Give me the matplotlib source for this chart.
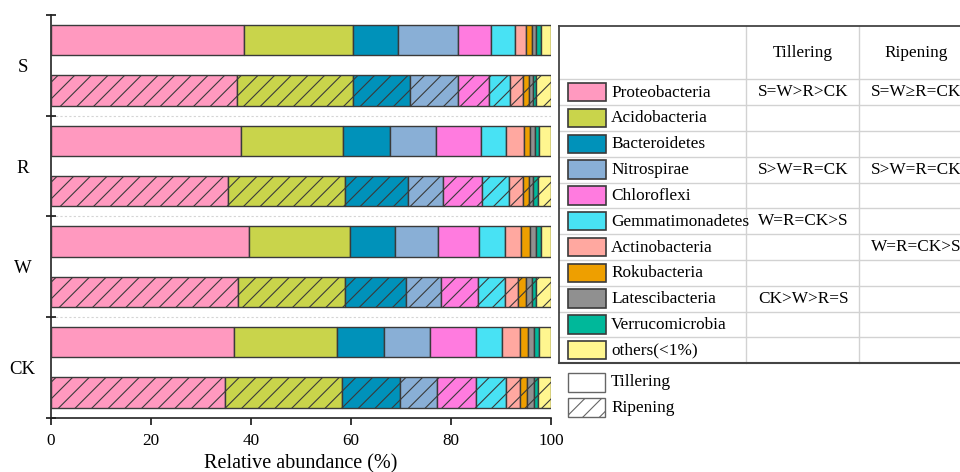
import matplotlib
matplotlib.use("Agg")
import matplotlib.pyplot as plt
from matplotlib.patches import Rectangle
import numpy as np

# ---------------- data ----------------
categories = ['Proteobacteria', 'Acidobacteria', 'Bacteroidetes', 'Nitrospirae',
              'Chloroflexi', 'Gemmatimonadetes', 'Actinobacteria', 'Rokubacteria',
              'Latescibacteria', 'Verrucomicrobia', 'others(<1%)']
colors = ['#FF99BF', '#C9D44B', '#0092BA', '#89AFD6', '#FF7BDF', '#48E2F4',
          '#FFA8A0', '#EE9F00', '#909090', '#00B89A', '#FFF68F']
treatments = ['CK', 'W', 'R', 'S']   # bottom to top

tillering = {
    'S':  [38.6, 21.7, 9.1, 11.9, 6.7, 4.8, 2.1, 1.3, 0.8, 1.0, 2.0],
    'R':  [37.9, 20.5, 9.3, 9.2, 9.0, 5.1, 3.6, 1.1, 1.0, 0.9, 2.4],
    'W':  [39.6, 20.2, 8.9, 8.6, 8.2, 5.2, 3.2, 1.9, 1.1, 1.0, 2.1],
    'CK': [36.6, 20.6, 9.4, 9.2, 9.2, 5.1, 3.7, 1.5, 1.2, 1.1, 2.4],
}
ripening = {
    'S':  [37.1, 23.2, 11.5, 9.5, 6.2, 4.3, 2.5, 1.2, 0.8, 0.7, 3.0],
    'R':  [35.4, 23.3, 12.7, 6.9, 7.9, 5.4, 2.7, 1.2, 0.8, 1.0, 2.7],
    'W':  [37.3, 21.5, 12.1, 7.1, 7.3, 5.4, 2.6, 1.6, 1.2, 0.9, 3.0],
    'CK': [34.8, 23.3, 11.6, 7.4, 7.9, 5.9, 2.8, 1.4, 1.4, 0.8, 2.7],
}
tillering_sig = ['S=W>R>CK', '', '', 'S>W=R=CK', '', 'W=R=CK>S', '', '',
                 'CK>W>R=S', '', '']
ripening_sig = ['S=W\u2265R=CK', '', '', 'S>W=R=CK', '', '', 'W=R=CK>S', '',
                '', '', '']
stage_names = ['Tillering', 'Ripening']
xticks = [0, 20, 40, 60, 80, 100]

# ---------------- style ----------------
SERIF = ['Liberation Serif', 'DejaVu Serif']
plt.rcParams['font.family'] = SERIF
plt.rcParams['hatch.linewidth'] = 0.8
EDGE = '#3a3a3a'

fig = plt.figure(figsize=(9.6, 4.72), dpi=100)
ax = fig.add_axes([0.05313, 0.1150, 0.52083, 0.8532])

bar_h = 0.3
for gi, t in enumerate(treatments):
    for stage, data, off, hatch in [(0, tillering, 0.75, None), (1, ripening, 0.25, '//')]:
        vals = np.array(data[t])
        lefts = np.concatenate([[0], np.cumsum(vals)[:-1]])
        ax.barh(np.full(len(vals), gi + off), vals, left=lefts, height=bar_h,
                color=colors, edgecolor=EDGE, linewidth=1.0, hatch=hatch, zorder=3)

ax.set_xlim(0, 100)
ax.set_ylim(0, 4)
for b in [1, 2, 3]:
    ax.axhline(b, color='#d5d5d5', lw=0.8, ls=(0, (2, 2)), zorder=1)

ax.spines['top'].set_visible(False)
ax.spines['right'].set_visible(False)
ax.spines['left'].set_color('#222222')
ax.spines['bottom'].set_color('#222222')
ax.spines['left'].set_linewidth(1.2)
ax.spines['bottom'].set_linewidth(1.2)

ax.set_xticks(xticks)
ax.set_xticklabels([str(v) for v in xticks], fontsize=12.3)
ax.tick_params(axis='x', direction='out', length=5, width=1.1, pad=6)

ax.set_yticks([i + 0.5 for i in range(len(treatments))])
ax.set_yticklabels(treatments, fontsize=13.5, ha='center')
ax.tick_params(axis='y', which='major', length=0, pad=20.5)
ax.set_yticks(range(len(treatments) + 1), minor=True)
ax.tick_params(axis='y', which='minor', direction='inout', length=7, width=1.1)
ax.set_xlabel('Relative abundance (%)', fontsize=14.5, labelpad=3.5)

# ---------------- legend table (pixel coords overlay) ----------------
ov = fig.add_axes([0, 0, 1, 1])
ov.set_xlim(0, 960)
ov.set_ylim(472, 0)
ov.axis('off')
ov.patch.set_alpha(0)

L, R_ = 559.3, 975
top, head_b = 26, 79.3
row_h = 25.8
nrows = len(categories)
bottom = head_b + row_h * nrows
col1, col2 = 746, 859.3
grid_c = '#d2d2d2'
FS = 12.4

# inner grid
for k in range(nrows):
    yk = head_b + row_h * k
    ov.plot([L, R_], [yk, yk], color=grid_c, lw=1.0, clip_on=False)
for xc in [col1, col2]:
    ov.plot([xc, xc], [top, bottom], color=grid_c, lw=1.0, clip_on=False)
# outer borders
ov.plot([L, R_], [top, top], color='#444444', lw=1.3, clip_on=False)
ov.plot([L, R_], [bottom, bottom], color='#444444', lw=1.5, clip_on=False)
ov.plot([L, L], [top, bottom], color='#444444', lw=1.3, clip_on=False)

# header
ov.text((col1 + col2) / 2, (top + head_b) / 2, stage_names[0], fontsize=FS,
        ha='center', va='center')
ov.text(col2 + (col2 - col1) / 2 + 0.5, (top + head_b) / 2, stage_names[1],
        fontsize=FS, ha='center', va='center')

sw_x, sw_w, sw_h = 567.7, 38.3, 18.3
for k, (name, c) in enumerate(zip(categories, colors)):
    yc = head_b + row_h * (k + 0.5)
    ov.add_patch(Rectangle((sw_x, yc - sw_h / 2), sw_w, sw_h, facecolor=c,
                           edgecolor=EDGE, lw=1.2))
    ov.text(611, yc + 0.5, name, fontsize=FS, ha='left', va='center')
    if tillering_sig[k]:
        ov.text((col1 + col2) / 2 + 0.5, yc, tillering_sig[k], fontsize=FS,
                ha='center', va='center', family=SERIF)
    if ripening_sig[k]:
        ov.text(col2 + (col2 - col1) / 2 + 0.5, yc, ripening_sig[k], fontsize=FS,
                ha='center', va='center', family=SERIF, clip_on=False)

# stage legend
for k, (name, hatch) in enumerate(zip(stage_names, [None, '//'])):
    y0 = 372.7 + 25 * k
    ov.add_patch(Rectangle((sw_x, y0), 37.3, 19, facecolor='white',
                           edgecolor='#666666', lw=1.0, hatch=hatch))
    ov.text(611, y0 + 9.8, name, fontsize=FS, ha='left', va='center')

fig.savefig('out.png', dpi=100)
